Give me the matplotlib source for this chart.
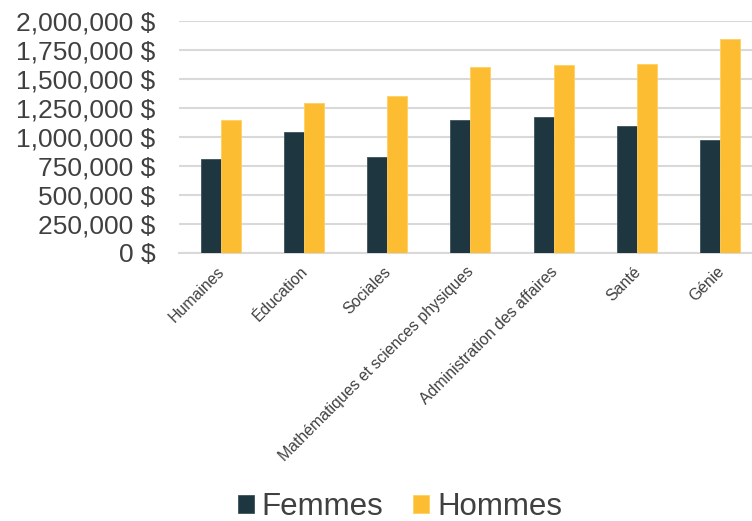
import numpy as np
import matplotlib
matplotlib.use("Agg")
import matplotlib.pyplot as plt
from matplotlib.ticker import FuncFormatter
from matplotlib.transforms import ScaledTranslation

plt.rcParams['font.family'] = ['Liberation Sans', 'DejaVu Sans']

categories = ['Humaines', 'Éducation', 'Sociales', 'Mathématiques et sciences physiques',
              'Administration des affaires', 'Santé', 'Génie']
femmes = [808000, 1046000, 825000, 1147000, 1170000, 1095000, 974000]
hommes = [1147000, 1290000, 1356000, 1603000, 1618000, 1629000, 1842000]
y_ticks = [0, 250000, 500000, 750000, 1000000, 1250000, 1500000, 1750000, 2000000]

c_f = '#1e3640'
c_h = '#fdbd33'
txt = '#404040'

fig = plt.figure(figsize=(7.52, 5.21), dpi=100)
ax = fig.add_axes([0.238, 0.5144, 0.762, 0.4453])

x = np.arange(len(categories))
w = 0.24
ax.bar(x - w / 2, femmes, w, color=c_f, label='Femmes', edgecolor='#3d535b', linewidth=0.6, zorder=3)
ax.bar(x + w / 2, hommes, w, color=c_h, label='Hommes', edgecolor='#ffd060', linewidth=0.6, zorder=3)

ax.set_ylim(0, 2000000)
ax.set_xlim(-0.5, 6.38)
ax.set_yticks(y_ticks)
ax.yaxis.set_major_formatter(FuncFormatter(lambda v, p: f'{int(v):,} $'))
ax.grid(axis='y', color='#d9d9d9', linewidth=1.5, zorder=0)
for s in ['top', 'right', 'left']:
    ax.spines[s].set_visible(False)
ax.spines['bottom'].set_color('#d9d9d9')
ax.spines['bottom'].set_linewidth(1.5)
ax.tick_params(axis='y', length=0, pad=17, labelsize=19, labelcolor=txt)
ax.tick_params(axis='x', length=0, pad=8, labelcolor=txt)
ax.set_xticks(x)
ax.set_xticklabels(categories, rotation=45, ha='right', rotation_mode='anchor', fontsize=11.4)
offset = ScaledTranslation(-4 / 100, 0, fig.dpi_scale_trans)
for lab in ax.get_xticklabels():
    lab.set_transform(lab.get_transform() + offset)

fig.legend(loc='center', bbox_to_anchor=(0.532, 0.027), ncol=2, frameon=False,
           fontsize=22.5, labelcolor=txt, handlelength=0.5, handleheight=0.5,
           handletextpad=0.26, columnspacing=0.95)

fig.savefig('out.png', dpi=100)
